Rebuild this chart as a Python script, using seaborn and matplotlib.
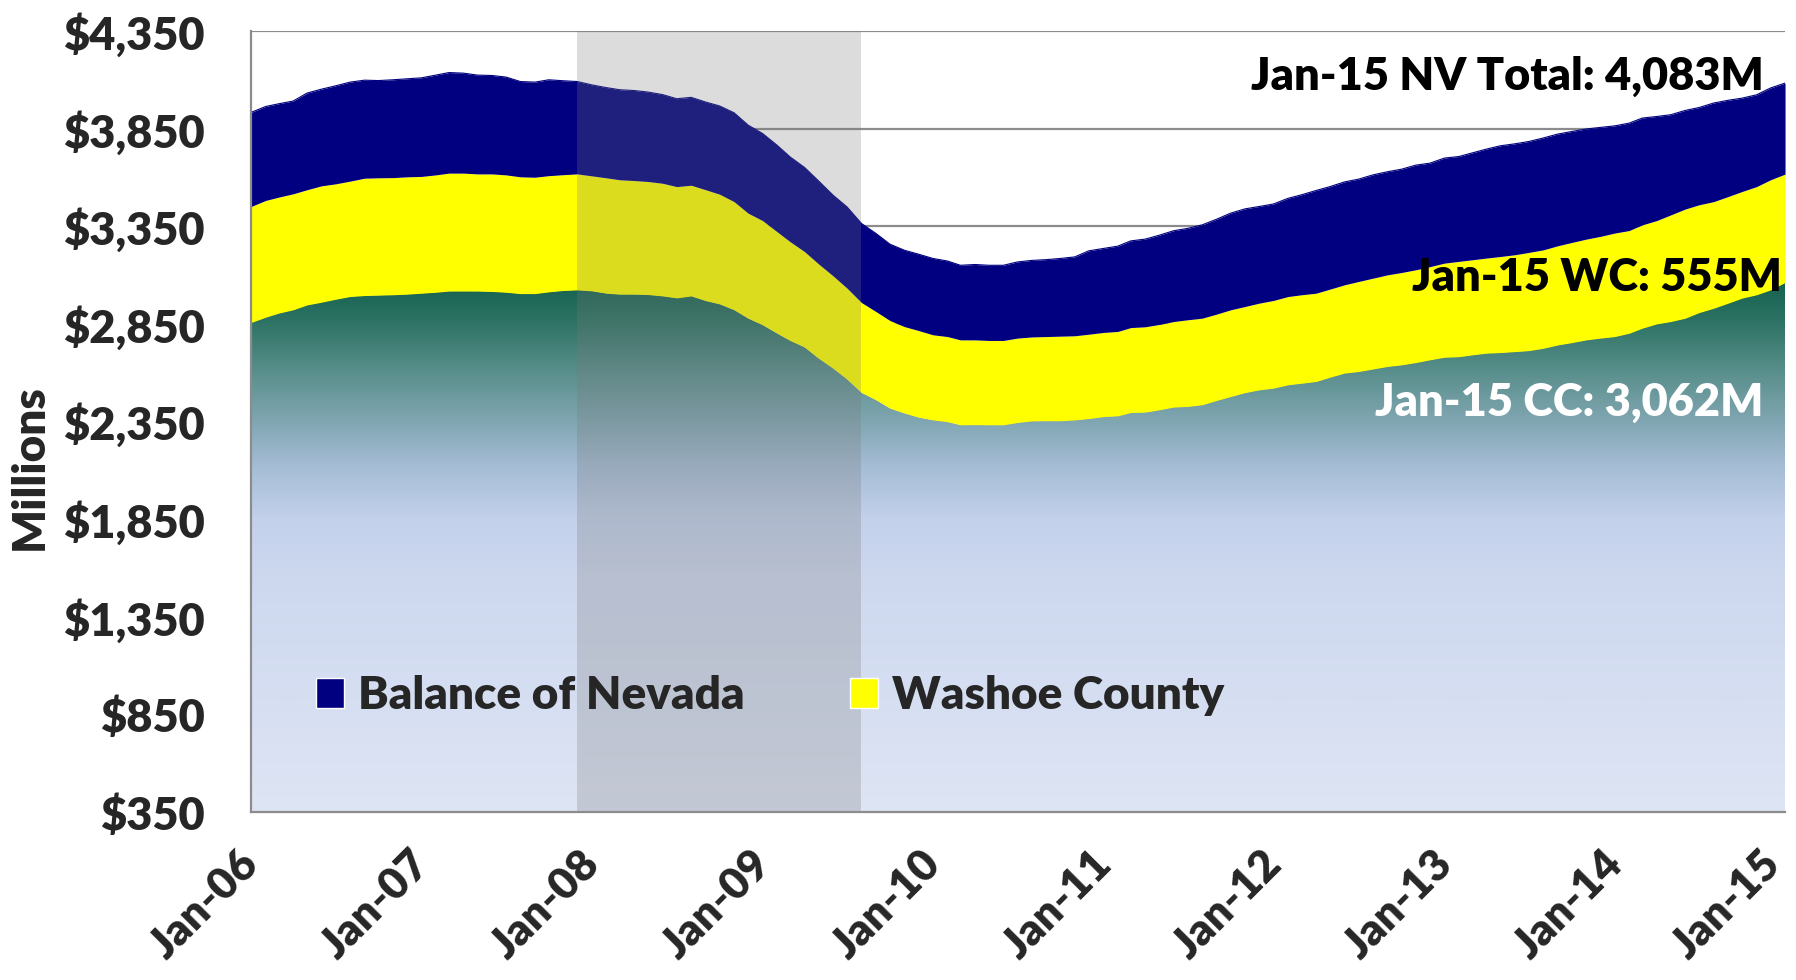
import numpy as np
import pandas as pd
import matplotlib
matplotlib.use("Agg")
import matplotlib.pyplot as plt
import matplotlib.dates as mdates
import matplotlib.transforms as mtrans
from matplotlib.colors import LinearSegmentedColormap
from matplotlib.patches import Patch
from matplotlib.ticker import FuncFormatter
import seaborn as sns

# monthly values, Jan-06 .. Jan-15 (millions)
months = pd.date_range("2006-01-01", "2015-01-01", freq="MS")
clark = [2857, 2884, 2905, 2922, 2947, 2961, 2976, 2990, 2995, 2997, 2999, 3002,
         3007, 3012, 3018, 3018, 3018, 3016, 3012, 3005, 3005, 3014, 3021, 3024,
         3019, 3007, 3002, 3002, 3000, 2993, 2983, 2993, 2969, 2952, 2922, 2879,
         2845, 2802, 2765, 2731, 2674, 2623, 2567, 2498, 2461, 2418, 2393, 2372,
         2358, 2349, 2333, 2334, 2333, 2333, 2345, 2353, 2354, 2354, 2358, 2365,
         2375, 2379, 2396, 2398, 2410, 2424, 2427, 2436, 2458, 2478, 2498, 2512,
         2521, 2538, 2546, 2555, 2577, 2598, 2606, 2619, 2632, 2640, 2652, 2666,
         2679, 2682, 2691, 2700, 2703, 2708, 2713, 2725, 2742, 2754, 2768, 2777,
         2785, 2802, 2828, 2850, 2862, 2879, 2908, 2930, 2956, 2982, 2999, 3024,
         3062]
washoe = [594, 598, 594, 594, 590, 596, 591, 591, 601, 601, 600, 601,
          598, 601, 604, 604, 600, 602, 601, 598, 596, 595, 593, 594,
          589, 591, 586, 582, 579, 577, 570, 567, 568, 562, 554, 538,
          534, 520, 506, 489, 483, 473, 466, 461, 452, 449, 443, 444,
          436, 436, 435, 434, 432, 432, 432, 430, 431, 433, 431, 432,
          431, 432, 435, 437, 437, 438, 444, 443, 442, 444, 441, 444,
          449, 452, 453, 452, 451, 452, 461, 465, 469, 473, 475, 477,
          482, 488, 487, 487, 492, 496, 503, 504, 508, 513, 516, 521,
          530, 526, 529, 529, 546, 559, 552, 546, 546, 546, 554, 564,
          555]
balance = [482, 481, 478, 475, 495, 495, 502, 507, 502, 498, 501, 502,
           505, 511, 515, 512, 506, 504, 501, 488, 487, 491, 481, 473,
           466, 462, 461, 461, 458, 454, 450, 450, 449, 452, 455, 451,
           446, 443, 434, 431, 425, 413, 416, 405, 400, 391, 391, 391,
           391, 387, 382, 386, 385, 385, 390, 392, 394, 398, 404, 427,
           430, 437, 444, 449, 457, 465, 468, 478, 486, 495, 500, 495,
           494, 503, 512, 526, 525, 527, 524, 529, 528, 529, 536, 530,
           538, 537, 547, 558, 567, 568, 568, 573, 572, 568, 564, 558,
           549, 550, 547, 533, 513, 505, 498, 505, 493, 478, 470, 470,
           466]
recession = ("2007-12-01", "2009-08-01")
yticks = np.arange(350, 4351, 500)

df = pd.DataFrame({"month": months, "Clark County": clark,
                   "Washoe County": washoe, "Balance of Nevada": balance})
df["cc_top"] = df["Clark County"]
df["wc_top"] = df["cc_top"] + df["Washoe County"]
df["total"] = df["wc_top"] + df["Balance of Nevada"]

sns.set_theme(style="white")
plt.rcParams["font.family"] = ["Lato", "DejaVu Sans"]
WEIGHT = "heavy"
FS = 32.5

fig = plt.figure(figsize=(17.96, 9.80), dpi=100)
ax = fig.add_axes([0.1398, 0.1714, 0.8541, 0.7970])

x = mdates.date2num(df["month"])
ymin, ymax = 350, 4350

# gridlines under the areas
for yv in yticks[1:]:
    ax.axhline(yv, color="#8c8c8c", lw=1.6, zorder=0)

# Clark County: fixed vertical gradient clipped to the area
cc_poly = ax.fill_between(x, ymin, df["cc_top"], color="none", lw=0, zorder=1)
stops = [(0.0, "#dee5f4"), (0.30, "#cdd8ef"), (0.375, "#c3d1eb"),
         (0.44, "#a6bdd6"), (0.50, "#80a6b2"), (0.5625, "#5a8f8c"),
         (0.625, "#2f7466"), (0.69, "#0e5d49"), (1.0, "#0d5b47")]
cmap = LinearSegmentedColormap.from_list("cc", stops)
grad = np.linspace(0, 1, 512).reshape(-1, 1)
im = ax.imshow(grad, cmap=cmap, aspect="auto", origin="lower",
               extent=[x[0], x[-1], ymin, ymax], zorder=1, interpolation="bilinear")
im.set_clip_path(cc_poly.get_paths()[0], ax.transData)

ax.fill_between(x, df["cc_top"], df["wc_top"], color="#ffff00", lw=0, zorder=2)
ax.fill_between(x, df["wc_top"], df["total"], color="#000080", lw=0, zorder=2)
sns.lineplot(x=x, y=df["total"], ax=ax, color="#000080", lw=0.8, zorder=2)

# recession band on top
ax.axvspan(mdates.datestr2num(recession[0]), mdates.datestr2num(recession[1]),
           color="#787878", alpha=0.26, lw=0, zorder=3)
ax.set_ylim(ymin, ymax)
ax.set_xlim(x[0], x[-1])

# axes styling
for s in ["top", "right"]:
    ax.spines[s].set_visible(False)
for s in ["left", "bottom"]:
    ax.spines[s].set_color("#8c8c8c")
    ax.spines[s].set_linewidth(1.6)
    ax.spines[s].set_zorder(4)

ax.set_yticks(yticks)
ax.yaxis.set_major_formatter(FuncFormatter(lambda v, p: "${:,.0f}".format(v)))
ax.tick_params(axis="y", direction="out", length=11.5, width=1.6, color="#8c8c8c",
               pad=22, labelsize=FS)
ax.xaxis.set_major_locator(mdates.YearLocator())
ax.xaxis.set_major_formatter(mdates.DateFormatter("%b-%y"))
ax.tick_params(axis="x", direction="in", length=11.5, width=1.6, color="#8c8c8c",
               pad=24, labelsize=31.5)
xlabels = ax.get_xticklabels()
for i, lab in enumerate(xlabels):
    dx = -0.13 if i < len(xlabels) - 1 else -0.25
    lab.set_rotation(45)
    lab.set_ha("right")
    lab.set_rotation_mode("anchor")
    lab.set_transform(lab.get_transform()
                      + mtrans.ScaledTranslation(dx, 0.02, fig.dpi_scale_trans))
for lab in xlabels + ax.get_yticklabels():
    lab.set_fontweight(WEIGHT)
ax.set_xlabel("")
ax.set_ylabel("Millions", fontsize=33, fontweight=WEIGHT)
ax.yaxis.set_label_coords(-0.131, 0.442)

# end-of-series annotations
ax.text(0.986, 0.942, "Jan-15 NV Total: 4,083M", transform=ax.transAxes,
        ha="right", va="center", fontsize=FS, fontweight=WEIGHT, color="black", zorder=5)
ax.text(0.998, 0.684, "Jan-15 WC: 555M", transform=ax.transAxes,
        ha="right", va="center", fontsize=FS, fontweight=WEIGHT, color="black", zorder=5)
ax.text(0.986, 0.524, "Jan-15 CC: 3,062M", transform=ax.transAxes,
        ha="right", va="center", fontsize=FS, fontweight=WEIGHT, color="white", zorder=5)

handles = [Patch(facecolor="#000080", label="Balance of Nevada"),
           Patch(facecolor="#ffff00", label="Washoe County")]
leg = ax.legend(handles=handles, loc="center left", bbox_to_anchor=(0.042, 0.149),
                ncol=2, frameon=False, borderpad=0, borderaxespad=0,
                handlelength=0.62, handleheight=0.62, handletextpad=0.3,
                columnspacing=2.3, prop={"weight": WEIGHT, "size": 33})
leg.set_zorder(6)

fig.savefig("out.png", dpi=100)
